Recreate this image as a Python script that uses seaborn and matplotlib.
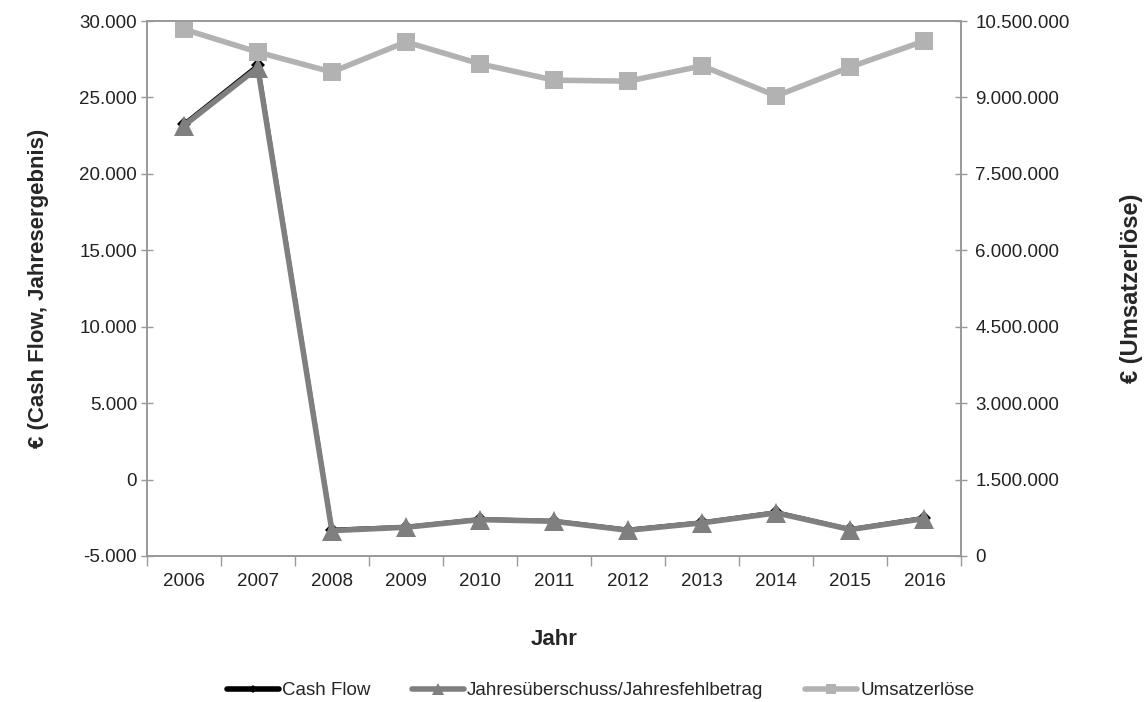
import numpy as np
import pandas as pd
import seaborn as sns
import matplotlib.pyplot as plt
from matplotlib.ticker import FuncFormatter, FixedLocator, NullFormatter

jahre = ["2006", "2007", "2008", "2009", "2010", "2011", "2012", "2013", "2014", "2015", "2016"]
cash_flow = [23250, 27100, -3280, -3100, -2590, -2710, -3280, -2800, -2140, -3250, -2500]
jahresergebnis = [23150, 26950, -3340, -3120, -2620, -2730, -3320, -2830, -2180, -3270, -2550]
umsatz = [10340000, 9890000, 9500000, 10090000, 9660000, 9340000, 9320000, 9620000, 9030000, 9600000, 10110000]

sns.set_theme(style="white")
plt.rcParams['font.family'] = ['Liberation Sans', 'DejaVu Sans']

df = pd.DataFrame({"Jahr": jahre, "Cash Flow": cash_flow,
                   "Jahresüberschuss/Jahresfehlbetrag": jahresergebnis,
                   "Umsatzerlöse": umsatz})

fig = plt.figure(figsize=(11.46, 7.02), dpi=100)
ax = fig.add_axes([0.128, 0.208, 0.711, 0.762])

sns.lineplot(data=df, x="Jahr", y="Cash Flow", ax=ax, color="black", lw=3,
             marker="D", markersize=7, markeredgewidth=0, label="Cash Flow", legend=False)
sns.lineplot(data=df, x="Jahr", y="Jahresüberschuss/Jahresfehlbetrag", ax=ax, color="#7f7f7f",
             lw=4, marker="^", markersize=14, markeredgewidth=0,
             label="Jahresüberschuss/Jahresfehlbetrag", legend=False)

ax2 = ax.twinx()
sns.lineplot(data=df, x="Jahr", y="Umsatzerlöse", ax=ax2, color="#b2b2b2", lw=4,
             marker="s", markersize=13, markeredgewidth=0, label="Umsatzerlöse", legend=False)

fmt = FuncFormatter(lambda v, p: f"{v:,.0f}".replace(",", "."))
ax.set_ylim(-5000, 30000)
ax.set_yticks(np.arange(-5000, 30001, 5000))
ax.yaxis.set_major_formatter(fmt)
ax2.set_ylim(0, 10500000)
ax2.set_yticks(np.arange(0, 10500001, 1500000))
ax2.yaxis.set_major_formatter(fmt)

ax.set_xlim(-0.5, 10.5)
ax.xaxis.set_major_locator(FixedLocator(np.arange(-0.5, 10.6, 1)))
ax.xaxis.set_major_formatter(NullFormatter())
ax.xaxis.set_minor_locator(FixedLocator(np.arange(0, 11)))
ax.set_xticklabels(jahre, minor=True)
ax.tick_params(axis="x", which="major", direction="out", length=7, width=1, color="#999999", bottom=True)
ax.tick_params(axis="x", which="minor", length=0, pad=12, labelsize=13.5, colors="#222222")
ax.tick_params(axis="y", direction="inout", length=8, width=1, color="#999999", left=True,
               labelsize=13.5, labelcolor="#222222", pad=3)
ax2.tick_params(axis="y", direction="inout", length=8, width=1, color="#999999", right=True,
                labelsize=13.5, labelcolor="#222222", pad=6)

for a in (ax, ax2):
    for s in a.spines.values():
        s.set_color("#999999")
        s.set_linewidth(1.2)

ax.set_xlabel("Jahr", fontsize=16, fontweight="bold", labelpad=28)
ax.set_ylabel("€ (Cash Flow, Jahresergebnis)", fontsize=16, fontweight="bold", labelpad=22)
ax2.set_ylabel("€ (Umsatzerlöse)", fontsize=17, fontweight="bold", labelpad=36, rotation=90)

h1, l1 = ax.get_legend_handles_labels()
h2, l2 = ax2.get_legend_handles_labels()
leg = fig.legend(h1 + h2, l1 + l2, loc="center", bbox_to_anchor=(0.524, 0.016), ncol=3,
                 frameon=False, fontsize=13.5, handlelength=2.8, handletextpad=0.15,
                 columnspacing=2.2, markerscale=0.6)
for line in leg.get_lines():
    line.set_linewidth(4)

fig.savefig("out.png", dpi=100)
